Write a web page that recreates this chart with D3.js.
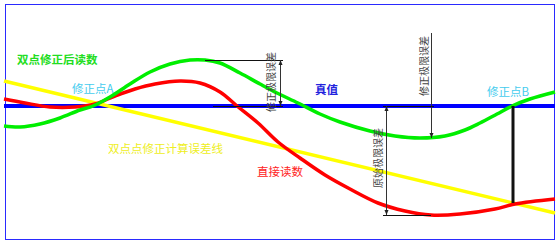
<!DOCTYPE html>
<html>
<head>
<meta charset="utf-8">
<script src="https://cdn.jsdelivr.net/npm/d3@7"></script>
<style>
  body { margin: 0; background: #fff; }
  svg { display: block; }
  text { font-family: "Noto Sans CJK SC", "Noto Sans", sans-serif; }
</style>
</head>
<body>
<svg class="chart" width="558" height="246"></svg>
<script>
// x = horizontal position along the input range, y = deviation from the true value
const trueValue = 0;
const greenX = [0, 16, 36, 56, 76, 89, 106, 126, 146, 166, 186, 201, 216, 236, 256, 273, 294, 316, 336, 366, 391, 416, 441, 461, 476, 493, 508, 526, 551];
const greenY = [-20, -21, -18, -12, -4, 0, 9, 22, 34, 42, 46, 46, 43, 33, 22, 13, 3, -8, -16, -25, -30, -32, -30, -24, -17, -8, 0, 7, 14];
const redX = [0, 21, 46, 71, 91, 111, 131, 151, 176, 196, 216, 233, 254, 274, 296, 321, 346, 374, 401, 427, 456, 491, 511, 551];
const redY = [7, 3, -1, -1, 2, 10, 17, 22, 25, 23, 14, 0, -17, -36, -52, -69, -83, -97, -105, -109, -108, -103, -98, -93];
const yellowX = [0, 551];
const yellowY = [25, -107];
const markerB = { x: 509, from: 0, to: -97 };

const labels = {
  green: '双点修正后读数',
  pointA: '修正点A',
  pointB: '修正点B',
  truth: '真值',
  yellow: '双点点修正计算误差线',
  red: '直接读数',
  corrLimit: '修正极限误差',
  rawLimit: '原始极限误差'
};

const svg = d3.select('.chart');
const width = 558, height = 246;

const xscale = d3.scaleLinear().domain([0, 551]).range([4, 555]);
const yscale = d3.scaleLinear().domain([-134, 102]).range([240, 4]);

// frame
svg.append('rect')
  .attr('x', 5.5).attr('y', 4.5)
  .attr('width', 549).attr('height', 235)
  .attr('fill', 'none')
  .attr('stroke', '#2a2aff')
  .attr('stroke-width', 1);

const defs = svg.append('defs');
defs.append('marker')
  .attr('id', 'arr')
  .attr('viewBox', '0 0 10 10')
  .attr('refX', 10).attr('refY', 5)
  .attr('markerWidth', 7).attr('markerHeight', 5)
  .attr('markerUnits', 'userSpaceOnUse')
  .attr('orient', 'auto-start-reverse')
  .append('path')
  .attr('d', 'M0,1 L10,5 L0,9 Z')
  .attr('fill', '#222');

const line = d3.line()
  .x(d => xscale(d[0]))
  .y(d => yscale(d[1]))
  .curve(d3.curveCatmullRom.alpha(0.5));

// true value line
svg.append('line')
  .attr('x1', xscale(0)).attr('x2', xscale(551))
  .attr('y1', yscale(trueValue)).attr('y2', yscale(trueValue))
  .attr('stroke', '#0000ff')
  .attr('stroke-width', 4);

// yellow error line
svg.append('path')
  .datum(d3.zip(yellowX, yellowY))
  .attr('d', d3.line().x(d => xscale(d[0])).y(d => yscale(d[1])))
  .attr('fill', 'none')
  .attr('stroke', '#ffff00')
  .attr('stroke-width', 3.5);

// raw reading
svg.append('path')
  .datum(d3.zip(redX, redY))
  .attr('d', line)
  .attr('fill', 'none')
  .attr('stroke', '#ff0000')
  .attr('stroke-width', 3.5);

// corrected reading
svg.append('path')
  .datum(d3.zip(greenX, greenY))
  .attr('d', line)
  .attr('fill', 'none')
  .attr('stroke', '#00ee00')
  .attr('stroke-width', 3.5);

// correction point B marker
svg.append('line')
  .attr('x1', xscale(markerB.x)).attr('x2', xscale(markerB.x))
  .attr('y1', yscale(markerB.from)).attr('y2', yscale(markerB.to))
  .attr('stroke', '#111')
  .attr('stroke-width', 3);

// dimension helpers
function hline(x1, x2, y, col) {
  svg.append('line')
    .attr('x1', xscale(x1)).attr('x2', xscale(x2))
    .attr('y1', yscale(y) + 0.5).attr('y2', yscale(y) + 0.5)
    .attr('stroke', col || '#111').attr('stroke-width', 1);
}
function vline(x, y1, y2, arrowStart, arrowEnd) {
  let l = svg.append('line')
    .attr('x1', xscale(x) + 0.5).attr('x2', xscale(x) + 0.5)
    .attr('y1', yscale(y1)).attr('y2', yscale(y2))
    .attr('stroke', '#333').attr('stroke-width', 1);
  if (arrowStart) l.attr('marker-start', 'url(#arr)');
  if (arrowEnd) l.attr('marker-end', 'url(#arr)');
}
function vtext(txt, cx, cy, size) {
  svg.append('text')
    .attr('transform', `translate(${cx},${cy})rotate(-90)`)
    .attr('text-anchor', 'middle')
    .attr('dominant-baseline', 'central')
    .attr('font-size', size)
    .attr('fill', '#444')
    .text(txt);
}

// correction limit at green peak
hline(201, 279, 46);
hline(209, 279, 0);
vline(276, 46, 0, true, true);
vtext(labels.corrLimit, 270, 82, 10);

// correction limit at green trough
vline(427, 73, -32, false, true);
hline(379, 430, 0);
vtext(labels.corrLimit, 423, 66, 10);

// raw limit
vline(382, 0, -109, true, true);
hline(379, 427, -109);
vtext(labels.rawLimit, 377, 158, 10);

// labels
function label(txt, x, y, col, weight) {
  svg.append('text')
    .attr('x', x).attr('y', y)
    .attr('font-size', 11.5)
    .attr('font-weight', weight || 'normal')
    .attr('fill', col)
    .text(txt);
}
label(labels.green, 17, 64, '#22dd22', 'bold');
label(labels.pointA, 72, 93, '#44ccee');
label(labels.truth, 315, 94, '#2222dd', 'bold');
label(labels.pointB, 487, 96, '#44ccee');
label(labels.yellow, 108, 153, '#eeee22');
label(labels.red, 257, 176, '#ff2222');
</script>
</body>
</html>
